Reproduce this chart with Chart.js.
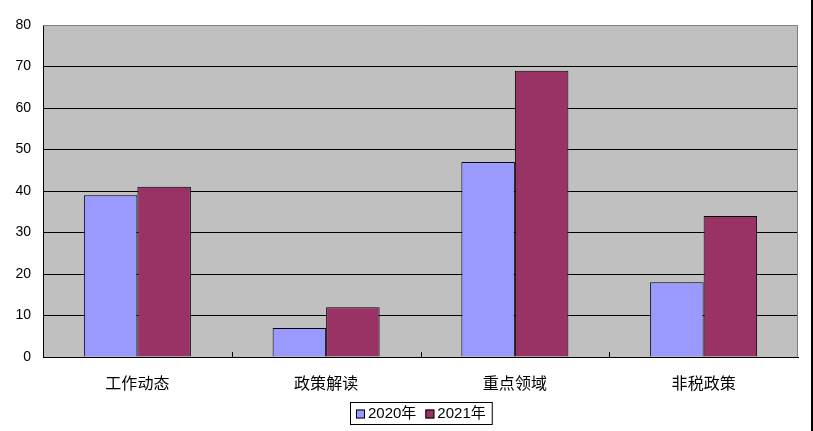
<!DOCTYPE html>
<html>
<head>
<meta charset="utf-8">
<script src="https://cdn.jsdelivr.net/npm/chart.js@4.4.0/dist/chart.umd.min.js"></script>
<style>
  html, body { margin: 0; padding: 0; background: #fff; }
  #wrap { position: relative; width: 813px; height: 431px; }
  #edge { position: absolute; left: 811px; top: 0; width: 2px; height: 431px; background: #000; }
</style>
</head>
<body>
<div id="wrap">
  <canvas id="myChart" width="813" height="431"></canvas>
  <div id="edge"></div>
</div>
<script>
// data
const categories = ['工作动态', '政策解读', '重点领域', '非税政策'];
const series2020 = [39, 7, 47, 18];
const series2021 = [41, 12, 69, 34];
const seriesNames = ['2020年', '2021年'];
const yTicks = [0, 10, 20, 30, 40, 50, 60, 70, 80];

const fontFamily = '"Liberation Sans", "Noto Sans CJK SC", sans-serif';

// gray plot background, gray top/right border, small ticks between categories
const plotDeco = {
    id: 'plotDeco',
    beforeDraw(chart) {
        const {ctx, chartArea: a} = chart;
        ctx.save();
        ctx.fillStyle = '#c0c0c0';
        ctx.fillRect(a.left, a.top, a.right - a.left, a.bottom - a.top);
        ctx.restore();
    },
    afterDatasetsDraw(chart) {
        const {ctx, chartArea: a, scales} = chart;
        ctx.save();
        ctx.strokeStyle = '#808080';
        ctx.lineWidth = 1;
        ctx.beginPath();
        ctx.moveTo(a.left, a.top + 0.5);
        ctx.lineTo(a.right - 0.5, a.top + 0.5);
        ctx.lineTo(a.right - 0.5, a.bottom);
        ctx.stroke();
        // category boundary ticks
        ctx.strokeStyle = '#000';
        ctx.beginPath();
        for (let i = 1; i < categories.length; i++) {
            const x = Math.round((scales.x.getPixelForValue(i - 1) + scales.x.getPixelForValue(i)) / 2) + 0.5;
            ctx.moveTo(x, a.bottom - 5);
            ctx.lineTo(x, a.bottom);
        }
        ctx.stroke();
        ctx.restore();
    }
};

// legend in a box, centred under the plot area
const boxLegend = {
    id: 'boxLegend',
    afterDraw(chart) {
        const {ctx, chartArea: a} = chart;
        ctx.save();
        ctx.font = '15px ' + fontFamily;
        ctx.textBaseline = 'middle';
        const sq = 9, gapSq = 3, gapItem = 9, padX = 6;
        const widths = chart.data.datasets.map(d => sq + gapSq + ctx.measureText(d.label).width);
        const total = widths.reduce((s, w) => s + w, 0) + gapItem * (widths.length - 1) + padX * 2;
        const h = 22;
        const cx = (a.left + a.right) / 2;
        const left = Math.round(cx - total / 2);
        const top = 402;
        ctx.strokeStyle = '#000';
        ctx.lineWidth = 1;
        ctx.strokeRect(left + 0.5, top + 0.5, total, h);
        let x = left + padX;
        const cy = top + h / 2 + 1;
        chart.data.datasets.forEach((d, i) => {
            ctx.fillStyle = d.backgroundColor;
            ctx.fillRect(x, cy - 4.5, sq, sq);
            ctx.strokeRect(x + 0.5, cy - 4.5 + 0.5, sq - 1, sq - 1);
            ctx.fillStyle = '#000';
            ctx.fillText(d.label, x + sq + gapSq, cy);
            x += widths[i] + gapItem;
        });
        ctx.restore();
    }
};

const ctx = document.querySelector('#myChart').getContext('2d');
const graphic = new Chart(ctx, {
    type: 'bar',
    data: {
        labels: categories,
        datasets: [{
            label: seriesNames[0],
            data: series2020,
            backgroundColor: '#9999ff',
            borderColor: '#000',
            borderWidth: 1,
            inflateAmount: 0
        }, {
            label: seriesNames[1],
            data: series2021,
            backgroundColor: '#993366',
            borderColor: '#000',
            borderWidth: 1,
            inflateAmount: 0
        }]
    },
    options: {
        responsive: false,
        animation: false,
        layout: { padding: { top: 25, right: 15, bottom: 0, left: 0 } },
        datasets: { bar: { categoryPercentage: 0.567, barPercentage: 1.0 } },
        plugins: {
            legend: { display: false },
            tooltip: { enabled: false }
        },
        scales: {
            x: {
                afterFit: s => { s.height = 74; },
                grid: { display: false },
                border: { color: '#000', width: 1 },
                ticks: { color: '#000', padding: 10, font: { family: fontFamily, size: 16 } }
            },
            y: {
                min: 0,
                max: 80,
                afterFit: s => { s.width = 43; },
                afterBuildTicks: s => { s.ticks = yTicks.map(v => ({value: v})); },
                grid: {
                    drawTicks: false,
                    color: c => (c.tick && c.tick.value === 80) ? 'rgba(0,0,0,0)' : '#000',
                    lineWidth: 1
                },
                border: { color: '#000', width: 1 },
                ticks: { color: '#000', padding: 12, font: { family: fontFamily, size: 14 } }
            }
        }
    },
    plugins: [plotDeco, boxLegend]
});
</script>
</body>
</html>
